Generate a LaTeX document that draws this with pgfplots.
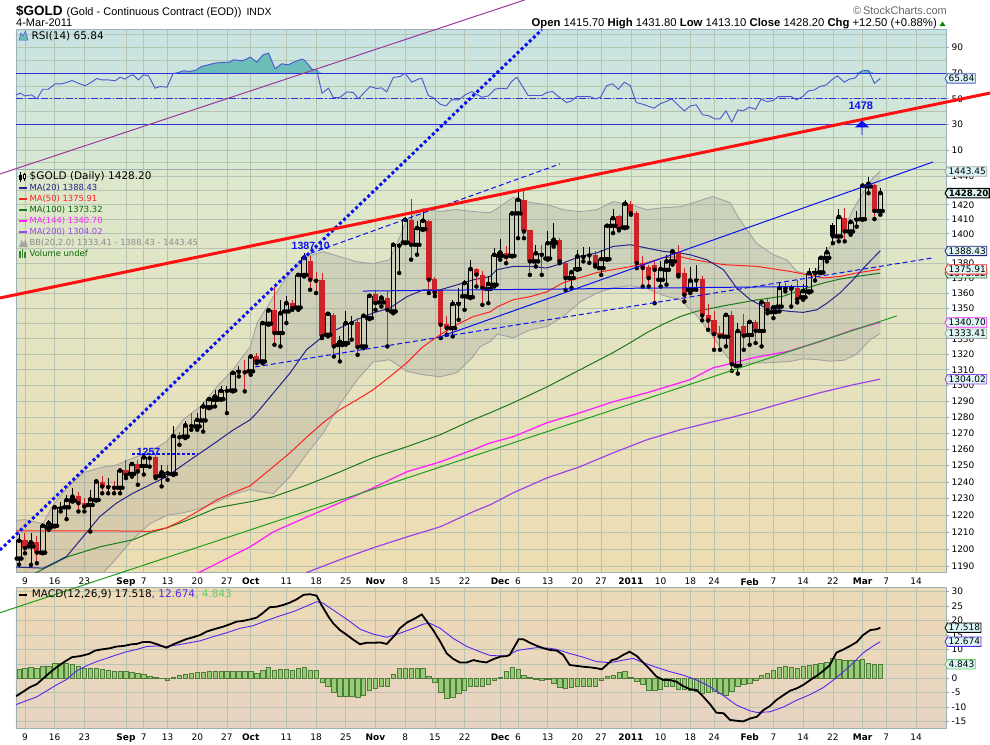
\documentclass[border=0pt]{standalone}
\usepackage{pgfplots}
\pgfplotsset{compat=1.18}
\usepackage{pgfplotstable}
\usetikzlibrary{shapes.symbols,shapes.arrows}
\usepackage{fontspec}
\setmainfont{DejaVu Sans}
\newfontfamily\arialf{Liberation Sans}

\definecolor{manavy}{HTML}{23238A}
\definecolor{mared}{HTML}{FF2222}
\definecolor{magreen}{HTML}{1A7A1A}
\definecolor{mamag}{HTML}{FF22FF}
\definecolor{mapurple}{HTML}{9A44E8}
\definecolor{bbgray}{HTML}{A2A2A2}
\definecolor{gridc}{HTML}{B7C4B2}
\definecolor{borderc}{HTML}{9DB0B6}
\definecolor{candlered}{HTML}{CC2228}
\definecolor{rsiline}{HTML}{4A55D0}
\definecolor{rsifill}{HTML}{6CBDB9}
\definecolor{lvlblue}{HTML}{3030D8}
\definecolor{sigblue}{HTML}{5526EE}
\definecolor{histfill}{HTML}{99CC77}
\definecolor{histedge}{HTML}{4E7A3A}
\definecolor{boxfill}{HTML}{DDF6F6}
\definecolor{annblue}{HTML}{0A10F0}
\definecolor{annpurple}{HTML}{9A3A9A}
\definecolor{anngreen}{HTML}{1E9E1E}
\definecolor{anred}{HTML}{FF1010}
\definecolor{rsiTop}{HTML}{C6E3E3}
\definecolor{rsiBot}{HTML}{DAE8D2}
\definecolor{mainTop}{HTML}{DCE8CC}
\definecolor{mainMid}{HTML}{F0E8B6}
\definecolor{mainBot}{HTML}{EEDCB2}
\definecolor{macdTop}{HTML}{EDDAB6}
\definecolor{macdBot}{HTML}{E8D3C2}
\definecolor{legGreen}{HTML}{006600}
\definecolor{macdGreen}{HTML}{66CC66}

% ---------------- price candles: index, open, high, low, close, type (0 up hollow, 1 red, 2 black)
\pgfplotstableread{
i O H L C t
-1 1194.5 1209.0 1191.0 1205.0 0
0 1205.5 1209.4 1197.6 1200.6 1
1 1201.6 1209.4 1190.8 1204.0 0
2 1204.0 1207.5 1191.8 1198.0 1
3 1198.0 1214.4 1197.6 1213.8 0
4 1212.8 1217.3 1211.4 1215.3 0
5 1213.8 1226.2 1213.4 1224.8 0
6 1224.2 1228.2 1222.3 1225.2 2
7 1224.8 1232.2 1217.7 1229.2 0
8 1228.9 1236.3 1228.2 1231.2 0
9 1231.6 1234.2 1222.3 1227.2 1
10 1227.2 1230.2 1222.3 1225.2 1
11 1226.2 1235.3 1210.4 1229.6 0
12 1229.2 1241.0 1228.8 1240.4 0
13 1239.8 1243.8 1233.2 1237.3 1
14 1237.0 1242.4 1233.2 1237.8 2
15 1237.6 1240.4 1233.2 1236.6 1
16 1236.6 1247.4 1233.2 1247.0 0
17 1247.4 1253.5 1242.4 1244.2 1
18 1245.0 1252.5 1243.3 1251.0 0
19 1251.0 1253.5 1238.4 1246.4 1
20 1249.8 1256.6 1244.6 1255.1 0
21 1255.6 1257.7 1249.4 1254.5 1
22 1255.6 1256.6 1242.4 1243.3 1
23 1243.7 1250.4 1237.4 1245.9 0
24 1246.4 1250.4 1241.4 1245.4 1
25 1244.9 1274.2 1244.3 1268.3 0
26 1268.3 1271.0 1262.8 1267.5 1
27 1267.9 1277.3 1266.9 1274.8 0
28 1275.2 1282.5 1272.1 1274.4 1
29 1274.2 1282.5 1272.1 1278.3 0
30 1277.9 1289.8 1271.0 1286.7 0
31 1286.2 1291.9 1285.6 1291.3 0
32 1290.9 1297.2 1286.7 1293.0 0
33 1291.3 1299.4 1290.9 1296.6 0
34 1296.5 1299.4 1282.5 1297.3 2
35 1296.8 1308.5 1296.2 1308.0 0
36 1308.7 1312.6 1305.7 1310.0 2
37 1309.4 1316.4 1296.2 1308.3 1
38 1309.0 1319.6 1306.8 1318.5 0
39 1318.9 1320.6 1314.2 1315.3 1
40 1315.3 1341.3 1314.2 1340.2 0
41 1339.8 1349.3 1339.1 1348.5 0
42 1348.9 1364.4 1326.1 1333.7 1
43 1333.7 1355.6 1325.0 1346.7 0
44 1347.8 1357.8 1340.2 1353.3 0
45 1353.3 1355.6 1348.9 1350.0 1
46 1350.4 1373.4 1348.9 1372.2 0
47 1372.2 1387.1 1371.1 1383.6 0
48 1381.2 1384.7 1362.2 1368.9 1
49 1369.0 1374.4 1360.0 1368.2 1
50 1368.4 1373.4 1330.4 1331.5 1
51 1332.6 1346.7 1331.5 1346.3 0
52 1345.6 1346.7 1318.5 1325.0 1
53 1325.9 1331.5 1315.3 1328.0 0
54 1327.2 1347.8 1326.1 1340.2 0
55 1340.1 1344.6 1329.4 1340.9 2
56 1340.7 1343.5 1319.6 1324.5 1
57 1325.0 1345.6 1323.9 1345.0 0
58 1343.5 1358.9 1342.8 1358.2 0
59 1359.6 1362.2 1348.9 1353.3 1
60 1353.8 1358.9 1351.1 1357.0 0
61 1357.0 1361.1 1325.0 1348.9 1
62 1347.8 1393.6 1346.7 1392.5 0
63 1391.8 1393.6 1373.4 1393.0 2
64 1394.1 1410.8 1393.6 1409.7 0
65 1409.7 1424.0 1382.4 1392.5 1
66 1392.5 1408.5 1385.8 1403.9 0
67 1403.2 1415.5 1402.7 1409.0 0
68 1408.5 1409.7 1360.0 1368.9 1
69 1369.5 1371.0 1358.0 1360.2 1
70 1361.8 1362.2 1330.4 1339.1 1
71 1339.8 1344.6 1332.6 1336.9 1
72 1336.9 1355.6 1331.5 1352.9 0
73 1352.6 1363.4 1342.4 1353.8 2
74 1357.8 1368.9 1348.9 1366.7 0
75 1357.3 1382.4 1356.7 1376.1 0
76 1376.1 1376.7 1364.4 1372.3 1
77 1372.3 1374.5 1352.2 1363.4 1
78 1362.7 1371.1 1353.3 1366.2 0
79 1365.6 1390.2 1364.4 1385.7 0
80 1385.0 1396.4 1382.4 1387.2 0
81 1386.8 1392.0 1380.0 1384.1 1
82 1385.0 1415.5 1384.6 1414.1 0
83 1414.1 1430.0 1397.0 1423.5 0
84 1423.5 1430.5 1397.0 1401.6 1
85 1402.3 1402.7 1372.2 1381.2 1
86 1381.2 1392.5 1377.8 1386.8 0
87 1386.8 1392.5 1372.2 1385.7 1
88 1383.2 1401.6 1382.4 1393.6 0
89 1393.6 1407.3 1391.3 1396.0 0
90 1396.0 1397.0 1380.0 1381.2 1
91 1380.1 1381.2 1362.2 1370.0 1
92 1370.0 1375.6 1363.4 1374.0 0
93 1376.1 1389.1 1375.6 1384.6 0
94 1384.2 1391.3 1381.2 1385.7 2
95 1385.3 1390.8 1380.2 1386.1 2
96 1385.3 1388.0 1377.8 1379.0 1
97 1376.7 1389.1 1372.2 1382.8 0
98 1382.8 1406.2 1382.4 1405.5 0
99 1405.5 1416.7 1400.5 1410.8 0
100 1411.9 1413.1 1402.3 1403.2 1
101 1404.4 1423.5 1403.9 1420.7 0
102 1420.7 1422.3 1413.1 1414.1 1
103 1414.1 1415.5 1376.7 1380.1 1
104 1380.1 1384.6 1364.4 1376.7 1
105 1377.8 1379.0 1364.4 1370.0 1
106 1379.0 1382.4 1353.3 1375.6 1
107 1368.9 1381.2 1364.4 1376.1 0
108 1375.6 1385.7 1365.6 1381.2 0
109 1381.2 1389.1 1379.0 1388.0 0
110 1387.4 1392.5 1371.1 1372.2 1
111 1373.4 1376.7 1354.4 1358.9 1
112 1362.2 1377.8 1360.0 1368.4 0
113 1368.4 1379.0 1362.2 1369.5 2
114 1369.5 1371.1 1342.0 1345.2 1
115 1345.6 1353.0 1335.8 1341.9 1
116 1342.4 1347.8 1322.8 1333.0 1
117 1333.6 1338.0 1322.8 1331.4 1
118 1331.4 1346.7 1325.0 1345.6 0
119 1345.6 1347.8 1309.3 1313.5 1
120 1312.5 1340.0 1307.5 1335.0 0
121 1338.4 1346.0 1322.8 1331.9 1
122 1332.4 1342.5 1326.1 1341.0 0
123 1341.0 1342.4 1327.2 1335.0 1
124 1335.0 1354.4 1325.0 1353.9 0
125 1354.0 1356.0 1346.7 1348.5 1
126 1347.4 1351.1 1343.5 1350.6 0
127 1351.0 1367.1 1347.8 1363.4 0
128 1364.4 1366.7 1361.1 1363.0 1
129 1362.7 1365.6 1351.1 1364.4 2
130 1363.4 1368.4 1353.8 1355.8 1
131 1357.2 1366.2 1355.6 1361.3 0
132 1361.1 1376.7 1360.4 1373.4 0
133 1373.2 1376.7 1368.4 1374.5 2
134 1373.8 1384.6 1373.4 1383.6 0
135 1383.6 1391.0 1381.2 1387.4 0
136 1406.2 1407.3 1393.6 1398.2 2
137 1398.2 1416.7 1394.8 1411.6 0
138 1410.8 1417.9 1394.8 1401.6 1
139 1401.6 1410.0 1399.3 1408.1 0
140 1409.7 1415.5 1404.9 1410.8 2
141 1410.0 1435.2 1409.7 1433.3 0
142 1432.8 1439.4 1428.1 1434.7 0
143 1434.0 1434.7 1410.1 1415.7 1
144 1415.7 1431.8 1413.1 1428.2 0
}\candles

\pgfplotstableread{
x y
-1.5 1189.5
3.1 1188.9
7.0 1195.7
9.8 1207.4
12.6 1219.3
15.4 1227.3
18.2 1233.3
21.0 1238.3
23.9 1243.4
26.6 1250.5
29.5 1257.7
32.3 1264.8
35.1 1272.1
37.9 1278.3
39.0 1282.5
41.8 1295.1
44.6 1307.8
47.4 1322.9
50.2 1331.5
53.0 1337.0
55.8 1342.4
58.6 1346.8
61.4 1350.1
64.3 1357.7
67.1 1362.2
69.9 1362.2
72.7 1365.5
75.5 1368.9
78.3 1371.1
79.4 1375.6
82.2 1377.9
85.0 1377.9
87.8 1376.8
90.6 1380.1
93.4 1384.6
96.2 1386.9
99.0 1391.4
101.9 1392.5
104.7 1390.3
107.5 1388.0
110.3 1386.9
112.0 1385.7
114.8 1382.3
117.6 1375.6
119.8 1363.4
122.1 1355.6
124.3 1351.1
126.6 1348.9
128.8 1347.8
131.0 1347.2
133.3 1348.9
135.0 1353.3
137.2 1360.0
139.4 1368.9
141.7 1379.0
144.0 1388.43
}\maA

\pgfplotstableread{
x y
-1.5 1210.8
12.6 1210.8
21.0 1210.5
23.9 1212.6
26.6 1217.3
29.5 1223.2
32.3 1229.3
35.0 1233.5
37.9 1237.7
39.1 1241.3
41.8 1249.3
44.6 1257.8
47.5 1267.8
50.2 1276.5
53.0 1284.6
55.9 1290.9
58.6 1297.2
61.4 1305.5
64.3 1314.5
67.0 1324.8
69.9 1332.6
72.7 1339.1
75.4 1344.4
78.3 1347.6
79.5 1350.9
82.2 1355.6
85.0 1357.6
87.9 1360.9
90.6 1366.9
93.4 1370.3
96.3 1373.7
99.0 1375.7
101.9 1377.7
104.7 1380.3
107.4 1383.7
110.3 1384.4
112.0 1382.8
117.6 1379.0
123.2 1377.9
128.8 1374.5
131.6 1372.3
134.4 1370.1
137.2 1371.1
140.0 1373.4
144.0 1375.91
}\maB

\pgfplotstableread{
x y
-1.5 1180.0
2.0 1186.5
7.1 1195.5
12.6 1201.4
18.2 1205.5
21.0 1209.6
23.9 1212.6
26.6 1216.1
29.5 1220.3
32.3 1224.5
35.0 1226.3
37.9 1228.1
41.8 1231.1
47.5 1238.3
53.0 1246.2
58.6 1254.8
64.3 1261.6
69.9 1269.0
75.4 1278.3
78.3 1282.7
82.2 1289.0
87.9 1299.1
93.4 1309.9
99.0 1321.0
101.9 1327.5
104.7 1334.0
107.4 1339.5
110.3 1344.5
113.1 1348.0
117.6 1351.5
123.2 1355.5
127.7 1358.0
131.6 1363.4
134.4 1366.7
137.2 1369.4
140.0 1371.1
144.0 1373.32
}\maC

\pgfplotstableread{
x y
26.6 1182.0
29.5 1186.7
37.9 1201.4
41.8 1210.2
47.5 1219.1
53.0 1227.5
58.6 1236.5
64.3 1246.3
69.9 1252.3
75.4 1259.7
78.3 1264.0
82.2 1267.8
87.9 1276.5
93.4 1282.7
99.0 1289.6
104.7 1295.3
110.3 1301.7
112.0 1303.7
115.8 1311.2
118.7 1313.8
122.6 1317.7
128.3 1321.6
133.8 1328.1
139.4 1335.8
144.0 1340.70
}\maD

\pgfplotstableread{
x y
46.3 1182.0
47.5 1186.5
53.0 1193.8
58.6 1200.8
64.3 1207.2
69.9 1213.2
75.4 1222.1
78.3 1226.3
82.2 1233.5
87.9 1242.6
93.4 1249.3
99.0 1257.8
104.7 1265.9
110.3 1272.1
115.8 1277.1
118.7 1279.6
122.6 1283.4
128.3 1289.6
133.8 1295.3
139.4 1300.4
144.0 1304.02
}\maE

\pgfplotstableread{
x y
-1.5 1217.0
0 1217.5
1.3 1216.4
3.0 1215.0
4.7 1226.0
7.1 1236.5
9.8 1245.6
12.6 1248.7
15.5 1250.5
18.2 1254.7
21.0 1258.4
23.9 1265.0
26.6 1278.3
29.5 1286.5
32.3 1299.1
35.0 1309.9
37.9 1324.8
39.1 1340.4
41.8 1357.5
44.6 1373.6
47.5 1384.4
50.2 1387.8
53.0 1384.4
55.9 1381.0
58.6 1379.7
61.4 1382.4
63.1 1398.0
64.3 1409.7
67.0 1417.4
69.9 1415.3
72.7 1416.7
75.4 1415.3
78.3 1414.5
79.5 1417.4
82.2 1425.2
85.0 1421.6
87.9 1420.1
90.6 1416.6
93.4 1415.2
96.3 1416.6
99.0 1422.2
101.9 1420.1
104.7 1416.6
107.4 1418.0
110.3 1418.7
113.1 1422.2
115.8 1425.8
118.7 1421.5
120.0 1412.0
121.5 1402.8
123.2 1393.3
126.0 1385.7
128.2 1382.4
129.9 1374.6
132.2 1372.3
133.8 1377.8
135.0 1389.1
136.7 1396.0
137.8 1402.8
139.4 1416.6
141.1 1428.4
142.8 1439.0
144.0 1443.45
}\bbU

\pgfplotstableread{
x y
-1.5 1160.0
3.0 1160.0
7.0 1162.0
9.8 1170.0
12.6 1184.0
15.5 1195.0
18.2 1206.0
21.0 1215.0
23.9 1220.0
26.6 1221.5
29.5 1224.0
32.3 1228.0
35.0 1232.5
37.9 1235.5
39.1 1234.5
41.8 1233.1
44.6 1243.2
47.5 1257.5
50.2 1270.0
53.0 1288.0
55.9 1303.5
58.6 1315.0
61.4 1316.4
64.3 1309.0
67.0 1306.8
69.9 1305.5
72.7 1308.1
75.4 1318.3
76.6 1324.8
78.3 1328.1
79.5 1333.0
82.2 1330.6
85.0 1335.8
87.9 1338.0
90.6 1344.5
93.4 1354.0
96.3 1360.0
99.0 1363.5
101.9 1365.0
104.7 1363.0
107.4 1358.5
110.3 1355.6
113.1 1345.0
115.8 1331.3
118.2 1318.3
119.9 1313.0
122.6 1314.3
125.4 1314.5
128.8 1315.3
131.0 1317.0
133.3 1316.5
135.5 1315.5
137.8 1316.0
140.0 1320.0
142.3 1329.4
144.0 1333.41
}\bbL

% band outline for the shaded Bollinger area: upper band forward, lower band backward
\pgfplotstableread{
x y
-1.5 1217.0
0 1217.5
1.3 1216.4
3.0 1215.0
4.7 1226.0
7.1 1236.5
9.8 1245.6
12.6 1248.7
15.5 1250.5
18.2 1254.7
21.0 1258.4
23.9 1265.0
26.6 1278.3
29.5 1286.5
32.3 1299.1
35.0 1309.9
37.9 1324.8
39.1 1340.4
41.8 1357.5
44.6 1373.6
47.5 1384.4
50.2 1387.8
53.0 1384.4
55.9 1381.0
58.6 1379.7
61.4 1382.4
63.1 1398.0
64.3 1409.7
67.0 1417.4
69.9 1415.3
72.7 1416.7
75.4 1415.3
78.3 1414.5
79.5 1417.4
82.2 1425.2
85.0 1421.6
87.9 1420.1
90.6 1416.6
93.4 1415.2
96.3 1416.6
99.0 1422.2
101.9 1420.1
104.7 1416.6
107.4 1418.0
110.3 1418.7
113.1 1422.2
115.8 1425.8
118.7 1421.5
120.0 1412.0
121.5 1402.8
123.2 1393.3
126.0 1385.7
128.2 1382.4
129.9 1374.6
132.2 1372.3
133.8 1377.8
135.0 1389.1
136.7 1396.0
137.8 1402.8
139.4 1416.6
141.1 1428.4
142.8 1439.0
144.0 1443.45
144.0 1333.41
142.3 1329.4
140.0 1320.0
137.8 1316.0
135.5 1315.5
133.3 1316.5
131.0 1317.0
128.8 1315.3
125.4 1314.5
122.6 1314.3
119.9 1313.0
118.2 1318.3
115.8 1331.3
113.1 1345.0
110.3 1355.6
107.4 1358.5
104.7 1363.0
101.9 1365.0
99.0 1363.5
96.3 1360.0
93.4 1354.0
90.6 1344.5
87.9 1338.0
85.0 1335.8
82.2 1330.6
79.5 1333.0
78.3 1328.1
76.6 1324.8
75.4 1318.3
72.7 1308.1
69.9 1305.5
67.0 1306.8
64.3 1309.0
61.4 1316.4
58.6 1315.0
55.9 1303.5
53.0 1288.0
50.2 1270.0
47.5 1257.5
44.6 1243.2
41.8 1233.1
39.1 1234.5
37.9 1235.5
35.0 1232.5
32.3 1228.0
29.5 1224.0
26.6 1221.5
23.9 1220.0
21.0 1215.0
18.2 1206.0
15.5 1195.0
12.6 1184.0
9.8 1170.0
7.0 1162.0
3.0 1160.0
-1.5 1160.0
}\bbPoly

\pgfplotstableread{
x y
-1.5 53.0
-0.8 54.3
0 52.2
1.1 53.0
2.0 49.9
3.0 57.4
3.9 57.4
5.1 61.6
6.2 61.6
7.0 62.7
7.9 64.2
9.0 62.1
10.1 60.1
10.9 62.1
12.1 65.8
12.9 64.7
14.0 64.7
15.2 64.0
16.0 66.8
16.8 65.3
17.7 67.9
18.2 68.7
19.1 64.7
19.9 68.7
20.8 67.9
21.9 58.2
22.7 59.5
23.9 59.0
24.9 69.4
25.8 70.5
26.7 71.8
27.8 71.3
28.9 72.6
29.7 75.2
30.9 76.5
32.0 77.8
33.1 78.3
34.5 78.6
35.1 80.4
36.5 79.6
37.3 80.9
37.9 82.5
39.0 78.6
40.1 84.3
41.0 85.6
42.1 73.4
43.2 77.3
44.3 76.5
45.5 79.1
46.6 80.9
47.1 79.9
48.3 73.1
49.1 72.6
50.0 54.3
51.1 58.2
51.9 50.9
53.0 50.9
54.2 55.4
55.3 54.8
56.1 49.9
57.0 54.3
58.1 59.5
59.2 58.0
60.0 58.5
60.9 55.4
62.0 66.6
63.1 67.3
64.0 69.9
65.1 62.9
66.2 65.3
66.8 66.0
67.9 52.5
68.7 50.9
69.9 45.7
70.9 44.4
71.8 49.1
73.0 49.1
74.1 53.0
75.2 55.6
76.0 53.5
76.9 51.2
78.0 52.2
79.1 57.4
80.0 58.2
81.1 57.7
81.9 63.4
82.8 66.8
83.6 60.8
84.7 52.5
85.9 52.5
87.0 52.5
87.8 54.8
88.8 55.6
89.8 51.7
91.2 47.0
92.0 48.3
92.9 51.7
94.0 51.7
95.1 51.7
96.0 49.9
96.9 51.2
97.9 60.1
98.9 61.6
99.9 57.4
100.9 62.9
101.9 60.1
102.9 47.0
103.8 46.0
104.8 44.4
105.9 42.6
106.9 46.0
107.9 47.8
108.9 49.9
109.9 45.2
111.0 40.5
112.0 44.4
113.0 45.2
114.1 37.4
115.0 36.9
116.1 34.3
117.0 34.3
118.0 40.5
119.0 31.7
120.0 41.3
120.9 40.5
121.9 43.4
123.0 41.8
123.9 49.6
124.9 47.8
125.9 48.6
126.8 51.7
128.0 51.7
129.0 51.7
129.9 49.1
130.9 51.7
131.9 56.1
132.9 56.9
133.8 59.5
134.9 60.8
135.8 64.7
136.8 67.9
137.9 62.9
138.8 65.3
139.7 66.1
140.9 71.8
142.0 72.0
143.0 62.1
144.0 65.84
}\rsidata

\pgfplotstableread{
x y
-1.5 -6.2
-0.3 -4.6
0.8 -3.1
2.0 -2.0
3.1 0
4.2 2.0
5.3 3.8
6.7 5.8
7.9 7.3
9.3 7.7
10.7 8.4
11.8 9.6
12.9 10.0
14.3 10.4
15.4 11.0
16.6 11.2
18.0 11.8
18.8 11.9
19.9 12.6
21.0 12.6
22.2 11.8
23.0 11.2
23.8 10.6
25.0 11.8
26.1 12.7
27.2 13.6
28.3 14.2
29.5 15.0
30.6 16.2
32.0 17.1
33.4 17.9
34.5 18.7
35.6 19.6
36.8 19.9
37.9 20.4
39.0 21.0
40.1 22.7
41.2 24.6
42.4 24.8
43.5 25.4
44.6 26.2
45.7 27.3
46.9 28.9
48.0 29.1
49.1 28.6
49.9 25.4
51.1 21.3
51.9 19.0
53.0 16.7
54.2 15.0
55.3 13.3
56.4 11.8
57.5 12.3
58.6 12.3
59.8 12.4
60.9 11.9
62.3 15.0
63.1 17.3
64.3 19.3
65.7 20.8
66.8 22.1
67.9 19.0
68.7 16.7
69.9 12.7
71.0 8.6
72.1 6.7
73.2 5.5
74.4 5.5
75.5 6.3
76.6 5.8
77.7 5.5
78.8 6.6
80.0 7.5
81.1 7.7
81.6 8.1
83.1 13.5
83.9 13.5
85.0 12.3
86.1 11.3
87.3 10.4
88.4 9.8
89.5 9.6
90.6 8.1
91.7 4.6
92.9 4.3
94.0 4.0
95.1 3.8
96.2 3.5
97.1 3.1
97.9 4.6
98.8 6.3
99.6 6.7
100.7 8.1
101.8 9.2
103.0 7.7
104.1 5.4
105.2 3.1
106.3 0.6
107.5 -0.6
108.6 -0.6
109.7 -1.2
110.8 -2.7
112.0 -3.8
113.1 -4.1
114.2 -6.4
115.3 -8.9
116.4 -11.9
117.6 -12.1
118.7 -14.4
119.8 -14.7
120.9 -14.9
122.1 -13.9
123.2 -13.3
124.3 -11.0
125.4 -9.6
126.5 -7.5
127.7 -5.8
128.8 -4.3
129.9 -3.5
131.0 -2.3
132.2 -0.6
133.3 0.9
134.4 2.6
135.5 4.6
136.6 8.9
137.8 10.0
138.9 11.2
140.0 12.5
141.1 15.0
142.3 16.7
143.4 17.0
144.0 17.518
}\macd

\pgfplotstableread{
x y
-1.5 -9.1
0.3 -7.7
2.0 -6.4
3.6 -4.4
5.3 -2.3
7.0 -0.4
8.7 2.6
10.4 4.4
12.1 5.8
13.7 6.9
15.4 8.1
17.1 9.2
18.8 10.0
20.5 11.0
22.2 11.2
23.8 11.0
25.5 11.5
27.2 12.1
29.5 13.0
31.7 14.4
34.0 15.8
36.2 17.3
38.4 18.2
40.7 20.0
42.9 21.6
45.2 23.1
47.4 25.0
49.1 26.5
50.2 26.0
51.9 23.6
54.2 20.4
56.4 17.0
58.6 15.3
60.9 14.2
63.1 15.6
65.4 17.3
67.1 18.8
68.2 19.0
69.9 17.3
72.1 13.8
74.4 11.0
76.6 9.2
78.3 7.9
81.1 7.7
82.8 9.6
83.9 10.0
86.1 10.6
88.4 10.4
89.5 10.0
91.7 8.6
94.0 7.3
96.2 5.8
98.5 5.4
100.7 6.3
102.4 6.9
104.1 5.4
106.3 3.8
108.6 2.3
110.8 1.1
113.1 -0.6
115.3 -2.9
117.6 -6.0
119.8 -9.3
122.1 -11.3
123.2 -11.8
125.4 -11.6
127.7 -9.9
129.9 -7.6
132.2 -5.6
134.4 -3.2
136.6 0.2
138.9 4.3
141.1 8.8
142.8 11.2
144.0 12.674
}\signal

\pgfplotstableread{
x y
-1 3.1
0 3.5
1 3.8
2 3.5
3 4.0
4 4.3
5 5.2
6 5.2
7 5.2
8 5.0
9 4.3
10 3.5
11 3.5
12 3.5
13 3.1
14 2.9
15 2.5
16 2.5
17 2.3
18 2.0
19 1.7
20 1.5
21 0.6
22 0.2
23 0.1
24 -0.6
25 0.3
26 0.9
27 1.5
28 1.7
29 2.0
30 2.0
31 2.5
32 2.5
33 2.5
34 2.3
35 2.5
36 2.5
37 2.3
38 2.3
39 1.7
40 2.7
41 3.8
42 2.9
43 3.1
44 3.1
45 2.7
46 3.5
47 3.8
48 2.9
49 2.7
50 -1.5
51 -2.7
52 -5.0
53 -6.1
54 -6.1
55 -6.1
56 -6.6
57 -5.8
58 -4.0
59 -3.5
60 -2.9
61 -2.9
62 1.5
63 3.5
64 3.5
65 3.5
66 3.5
67 3.5
68 0.6
69 -1.5
70 -5.0
71 -6.9
72 -6.7
73 -5.2
74 -4.0
75 -2.9
76 -2.9
77 -2.9
78 -2.0
79 -0.6
80 0.3
81 2.3
82 3.8
83 3.1
84 1.1
85 0.3
86 -0.4
87 -0.6
88 -0.4
89 -1.7
90 -3.1
91 -3.5
92 -3.1
93 -2.7
94 -2.7
95 -2.7
96 -2.7
97 -0.6
98 0.6
99 0.9
100 2.0
101 2.5
102 0.2
103 -0.9
104 -2.0
105 -4.0
106 -4.0
107 -3.8
108 -2.7
109 -2.7
110 -3.8
111 -3.8
112 -4.3
113 -4.6
114 -5.2
115 -5.0
116 -4.6
117 -5.2
118 -5.8
119 -4.6
120 -2.9
121 -2.0
122 -1.7
123 -0.6
124 0.9
125 1.7
126 2.9
127 3.8
128 4.3
129 3.8
130 3.5
131 4.3
132 4.6
133 5.0
134 5.2
135 5.4
136 6.9
137 6.6
138 6.3
139 6.1
140 6.3
141 6.7
142 5.2
143 5.0
144 4.843
}\hist

\pgfplotsset{
  panel/.style={
    scale only axis, width=930pt, xmin=-1.515, xmax=155.05,
    anchor=north west,
    axis line style={draw=borderc, line width=0.8pt},
    xtick={0,5,10,17,20,24,29,34,38,44,49,54,59,64,69,74,80,83,88,93,97,102,107,112,116,122,126,131,136,141,145,150},
    grid=major, major grid style={draw=gridc, line width=0.7pt},
    minor grid style={draw=gridc, line width=0.7pt},
    xtick style={draw=none},
    ytick pos=right, yticklabel pos=right,
    ytick style={draw=borderc, line width=0.6pt},
    major tick length=3pt, minor tick length=0pt, tick align=outside,
    tick label style={font=\fontsize{9}{10}\selectfont, text=black},
    yticklabel style={anchor=west, xshift=-1pt},
    xticklabel style={yshift=1pt},
  },
  datelabels/.style={xticklabels={9,16,23,\textbf{Sep},7,13,20,27,\textbf{Oct},11,18,25,\textbf{Nov},8,15,22,\textbf{Dec},6,13,20,27,\textbf{2011},10,18,24,\textbf{Feb},7,14,22,\textbf{Mar},7,14}},
  cndl/.style n args={3}{only marks, mark=none, forget plot,
    restrict expr to domain={\thisrow{t}}{#1},
    error bars/.cd, y dir=plus, y explicit, error mark=none,
    error bar style={draw=#2, line width=#3}},
  cedge/.style={only marks, mark=none, forget plot,
    restrict expr to domain={\thisrow{t}}{-0.5:0.5},
    error bars/.cd, x dir=both, x fixed=0.46, error mark=none,
    error bar style={draw=black, line width=0.8pt}},
}
\tikzset{vbox/.style={signal, signal to=west, signal pointer angle=120, draw=#1, fill=boxfill,
   line width=0.8pt, inner xsep=0.9pt, inner ysep=1.3pt, text height=6.6pt, text depth=0.2pt,
   font=\fontsize{9}{10}\selectfont, anchor=west, xshift=-1.5pt}}

\begin{document}
\begin{tikzpicture}
\useasboundingbox (0pt,0pt) rectangle (990pt,-744pt);

% ================= RSI panel
\begin{axis}[panel, at={(16pt,-29pt)}, height=141pt,
  ymin=-5.6, ymax=104.4,
  ytick={10,30,50,70,90}, yticklabels={10,30,50,70,90},
  minor ytick={0,20,40,60,80,100}, grid=both,
  xticklabels={},
  axis background/.style={shade, top color=rsiTop, bottom color=rsiBot}]
  % overbought area: RSI above the 70 level
  \addplot[fill=rsifill, draw=none, y filter/.expression={max(y,70)}] table {\rsidata};
  \addplot[lvlblue, line width=0.8pt] coordinates {(-1.515,30) (155.05,30)};
  \addplot[lvlblue, line width=0.8pt, dash pattern=on 7pt off 2pt on 1.5pt off 2pt] coordinates {(-1.515,50) (155.05,50)};
  \addplot[lvlblue, line width=0.8pt] coordinates {(-1.515,70) (155.05,70)};
  \addplot[rsiline, line width=0.9pt] table {\rsidata};
  \coordinate (vrsi) at (axis cs:155.05,65.84);
\end{axis}
\node[vbox=rsiline] at (vrsi) {65.84};

% ================= MACD panel
\begin{axis}[panel, datelabels, at={(16pt,-587pt)}, height=141pt,
  ymin=-17.2, ymax=31.6,
  ytick={-15,-10,-5,0,5,10,15,20,25,30}, yticklabels={-15,-10,-5,0,,10,15,20,25,30},
  axis background/.style={shade, top color=macdTop, bottom color=macdBot}]
  \addplot[ybar, bar width=4.4pt, fill=histfill, draw=histedge, line width=0.6pt] table {\hist};
  \addplot[sigblue, line width=0.9pt] table {\signal};
  \addplot[black, line width=1.8pt] table {\macd};
  \coordinate (vm1) at (axis cs:155.05,17.518);
  \coordinate (vm2) at (axis cs:155.05,12.674);
  \coordinate (vm3) at (axis cs:155.05,4.843);
\end{axis}
\node[vbox=black] at (vm1) {17.518};
\node[vbox=sigblue] at (vm2) {12.674};
\node[vbox=macdGreen] at (vm3) {4.843};

% ================= Price panel
\begin{axis}[panel, datelabels, at={(16pt,-170pt)}, height=403pt,
  ymode=log, ymin=1186.2, ymax=1444.5,
  ytick={1190,1200,1210,1220,1230,1240,1250,1260,1270,1280,1290,1300,1310,1320,1330,1340,1350,1360,1370,1380,1390,1400,1410,1420,1430,1440},
  yticklabels={1190,1200,1210,1220,1230,1240,1250,1260,1270,1280,1290,1300,1310,1320,1330,,1350,1360,1370,1380,,1400,1410,1420,,1440},
  axis background/.style={shade, top color=mainTop, middle color=mainMid, bottom color=mainBot}]
  % Bollinger bands
  \addplot[fill=black!45, fill opacity=0.22, draw=none] table {\bbPoly};
  \addplot[bbgray, line width=0.9pt] table {\bbU};
  \addplot[bbgray, line width=0.9pt] table {\bbL};
  % moving averages
  \addplot[mapurple, line width=1.2pt] table {\maE};
  \addplot[mamag, line width=1.3pt] table {\maD};
  \addplot[magreen, line width=1pt] table {\maC};
  \addplot[mared, line width=1pt] table {\maB};
  \addplot[manavy, line width=1pt] table {\maA};
  % candle wicks
  \addplot[cndl={0.5:1.5}{candlered}{1pt}] table[x=i, y=L, y error expr=\thisrow{H}-\thisrow{L}] {\candles};
  \addplot[cndl={1.5:2.5}{black}{1pt}] table[x=i, y=L, y error expr=\thisrow{H}-\thisrow{L}] {\candles};
  \addplot[cndl={-0.5:0.5}{black}{0.85pt}] table[x=i, y=C, y error expr=\thisrow{H}-\thisrow{C}] {\candles};
  \addplot[cndl={-0.5:0.5}{black}{0.85pt}] table[x=i, y=L, y error expr=\thisrow{O}-\thisrow{L}] {\candles};
  % candle bodies
  \addplot[cndl={0.5:1.5}{candlered}{5.2pt}] table[x=i, y=C, y error expr=\thisrow{O}-\thisrow{C}] {\candles};
  \addplot[cndl={1.5:2.5}{black}{5.2pt}] table[x=i, y expr={min(\thisrow{O},\thisrow{C})}, y error expr={abs(\thisrow{C}-\thisrow{O})}] {\candles};
  \addplot[cndl={-0.5:0.5}{black}{0.8pt}] table[x expr=\thisrow{i}-0.40, y=O, y error expr=\thisrow{C}-\thisrow{O}] {\candles};
  \addplot[cndl={-0.5:0.5}{black}{0.8pt}] table[x expr=\thisrow{i}+0.40, y=O, y error expr=\thisrow{C}-\thisrow{O}] {\candles};
  \addplot[cedge] table[x=i, y=O] {\candles};
  \addplot[cedge] table[x=i, y=C] {\candles};
  % anchor points of the chartist's trend lines
  \coordinate (pa1) at (axis cs:-4.21,1441.7);  \coordinate (pa2) at (axis cs:84.18,1569.8);
  \coordinate (ga1) at (axis cs:-4.21,1163.4);  \coordinate (ga2) at (axis cs:146.75,1345.0);
  \coordinate (da1) at (axis cs:46.8,1385.0);   \coordinate (da2) at (axis cs:90.07,1448.8);
  \coordinate (db1) at (axis cs:38.72,1311.9);  \coordinate (db2) at (axis cs:152.86,1383.7);
  \coordinate (ha1) at (axis cs:56.9,1361.5);   \coordinate (ha2) at (axis cs:131.8,1364.5);
  \coordinate (ra1) at (axis cs:69.87,1331.3);  \coordinate (ra2) at (axis cs:152.86,1450.2);
  \coordinate (ka1) at (axis cs:18.0,1257);     \coordinate (ka2) at (axis cs:29.0,1257);
  \coordinate (dt1) at (axis cs:-4.21,1199.6);  \coordinate (dt2) at (axis cs:86.99,1546.9);
  \coordinate (rd1) at (axis cs:-4.21,1356.9);  \coordinate (rd2) at (axis cs:162.46,1499.9);
  \coordinate (l1257) at (axis cs:20.8,1258.8);
  \coordinate (l1387) at (axis cs:48.1,1391.8);
  \coordinate (l1478) at (axis cs:140.7,1490.5);
  \coordinate (arr) at (axis cs:140.9,1474.6);
  \coordinate (vb1) at (axis cs:155.05,1443.45);
  \coordinate (vb2) at (axis cs:155.05,1428.20);
  \coordinate (vb3) at (axis cs:155.05,1388.43);
  \coordinate (vb4) at (axis cs:155.05,1373.32);
  \coordinate (vb5) at (axis cs:155.05,1375.91);
  \coordinate (vb6) at (axis cs:155.05,1340.70);
  \coordinate (vb7) at (axis cs:155.05,1333.41);
  \coordinate (vb8) at (axis cs:155.05,1304.02);
\end{axis}
% chartist trend lines and labels (unclipped, like the original annotations)
\draw[annpurple, line width=1pt] (pa1) -- (pa2);
\draw[anngreen, line width=1pt] (ga1) -- (ga2);
\draw[annblue, line width=1pt, dash pattern=on 5pt off 3pt] (da1) -- (da2);
\draw[annblue, line width=1pt, dash pattern=on 5pt off 3pt] (db1) -- (db2);
\draw[annblue, line width=1pt] (ha1) -- (ha2);
\draw[annblue, line width=1pt] (ra1) -- (ra2);
\draw[annblue, line width=2pt, dash pattern=on 3pt off 2pt] (ka1) -- (ka2);
\draw[annblue, line width=3pt, dash pattern=on 3pt off 2.6pt] (dt1) -- (dt2);
\draw[anred, line width=3pt] (rd1) -- (rd2);
\node[font=\arialf\bfseries\fontsize{10.5}{11}\selectfont, text=annblue, inner sep=0] at (l1257) {1257};
\node[font=\arialf\bfseries\fontsize{10.5}{11}\selectfont, text=annblue, inner sep=0] at (l1387) {1387.10};
\node[font=\arialf\bfseries\fontsize{11}{12}\selectfont, text=annblue, inner sep=0] at (l1478) {1478};
\node[single arrow, fill=annblue, rotate=90, minimum height=14.5pt, minimum width=14.3pt,
      single arrow head extend=3pt, inner sep=0pt] at (arr) {};
% value boxes
\node[vbox=bbgray] at (vb1) {1443.45};
\node[vbox=black, line width=1.1pt, font=\bfseries\fontsize{8.7}{10}\selectfont] at (vb2) {1428.20};
\node[vbox=manavy] at (vb3) {1388.43};
\node[vbox=magreen] at (vb4) {1373.32};
\node[vbox=mared] at (vb5) {1375.91};
\node[vbox=mamag] at (vb6) {1340.70};
\node[vbox=bbgray] at (vb7) {1333.41};
\node[vbox=mapurple] at (vb8) {1304.02};

% ================= header
\node[anchor=base west, inner sep=0, font=\arialf\fontsize{11}{12}\selectfont] at (16pt,-15pt)
  {{\bfseries\fontsize{13.5}{14}\selectfont \$GOLD}\hspace{4pt}(Gold - Continuous Contract (EOD))\hspace{5pt}{\fontsize{10.5}{12}\selectfont INDX}};
\node[anchor=base west, inner sep=0, font=\arialf\fontsize{11}{12}\selectfont] at (16pt,-27pt) {4-Mar-2011};
\node[anchor=base east, inner sep=0, font=\arialf\fontsize{11.3}{12}\selectfont] at (937pt,-27pt)
  {\textbf{Open} 1415.70 \textbf{High} 1431.80 \textbf{Low} 1413.10 \textbf{Close} 1428.20 \textbf{Chg} +12.50 (+0.88\%)};
\fill[green!55!black] (939.5pt,-26pt) -- (945.5pt,-26pt) -- (942.5pt,-21.5pt) -- cycle;
\node[anchor=base east, inner sep=0, font=\arialf\fontsize{11}{12}\selectfont, text=black!60] at (947pt,-14pt) {©\,StockCharts.com};

% ================= RSI legend
\fill[rsifill, draw=rsiline, line width=0.5pt] (19pt,-40pt) -- (21pt,-33pt) -- (23pt,-36pt) -- (25.5pt,-31pt) -- (28pt,-40pt) -- cycle;
\node[anchor=west, inner sep=0, font=\fontsize{10.5}{11}\selectfont] at (31.5pt,-36.3pt) {RSI(14) 65.84};

% ================= price legend
\draw[black, line width=0.8pt] (20.5pt,-172pt) -- (20.5pt,-181.5pt);
\fill[black] (19.3pt,-174.5pt) rectangle (21.7pt,-179.5pt);
\draw[black, line width=0.8pt] (24.5pt,-172.5pt) -- (24.5pt,-181pt);
\draw[black, line width=0.6pt, fill=white] (23.3pt,-174pt) rectangle (25.7pt,-178.5pt);
\node[anchor=west, inner sep=0, font=\fontsize{10.5}{11}\selectfont] at (29.5pt,-176.7pt) {\$GOLD (Daily) 1428.20};
\draw[manavy, line width=2pt] (19pt,-188.3pt) -- (27pt,-188.3pt);
\node[anchor=west, inner sep=0, font=\fontsize{8.4}{9}\selectfont, text=manavy] at (29.5pt,-188.3pt) {MA(20) 1388.43};
\draw[mared, line width=2pt] (19pt,-199pt) -- (27pt,-199pt);
\node[anchor=west, inner sep=0, font=\fontsize{8.4}{9}\selectfont, text=mared] at (29.5pt,-199pt) {MA(50) 1375.91};
\draw[magreen, line width=2pt] (19pt,-210pt) -- (27pt,-210pt);
\node[anchor=west, inner sep=0, font=\fontsize{8.4}{9}\selectfont, text=legGreen] at (29.5pt,-210pt) {MA(100) 1373.32};
\draw[mamag, line width=2pt] (19pt,-221pt) -- (27pt,-221pt);
\node[anchor=west, inner sep=0, font=\fontsize{8.4}{9}\selectfont, text=mamag] at (29.5pt,-221pt) {MA(144) 1340.70};
\draw[mapurple, line width=2pt] (19pt,-231.7pt) -- (27pt,-231.7pt);
\node[anchor=west, inner sep=0, font=\fontsize{8.4}{9}\selectfont, text=mapurple] at (29.5pt,-231.7pt) {MA(200) 1304.02};
\fill[black!35] (19pt,-247pt) -- (21.5pt,-240pt) -- (23.5pt,-243pt) -- (25.5pt,-239pt) -- (28pt,-247pt) -- cycle;
\node[anchor=west, inner sep=0, font=\fontsize{8.4}{9}\selectfont, text=black!45] at (29.5pt,-242.7pt) {BB(20,2.0) 1333.41 - 1388.43 - 1443.45};
\fill[legGreen!80] (19pt,-258pt) rectangle (20.6pt,-251pt);
\fill[legGreen!80] (21.6pt,-258pt) rectangle (23.2pt,-249pt);
\fill[legGreen!80] (24.2pt,-258pt) rectangle (25.8pt,-252pt);
\node[anchor=west, inner sep=0, font=\fontsize{8.4}{9}\selectfont, text=legGreen] at (29.5pt,-253.3pt) {Volume undef};

% ================= MACD legend
\draw[black, line width=2pt] (19pt,-594.7pt) -- (27pt,-594.7pt);
\node[anchor=west, inner sep=0, font=\fontsize{10.5}{11}\selectfont] at (31.7pt,-594.7pt)
  {MACD(12,26,9) 17.518\textcolor{sigblue}{, 12.674}\textcolor{macdGreen}{, 4.843}};
\end{tikzpicture}
\end{document}
